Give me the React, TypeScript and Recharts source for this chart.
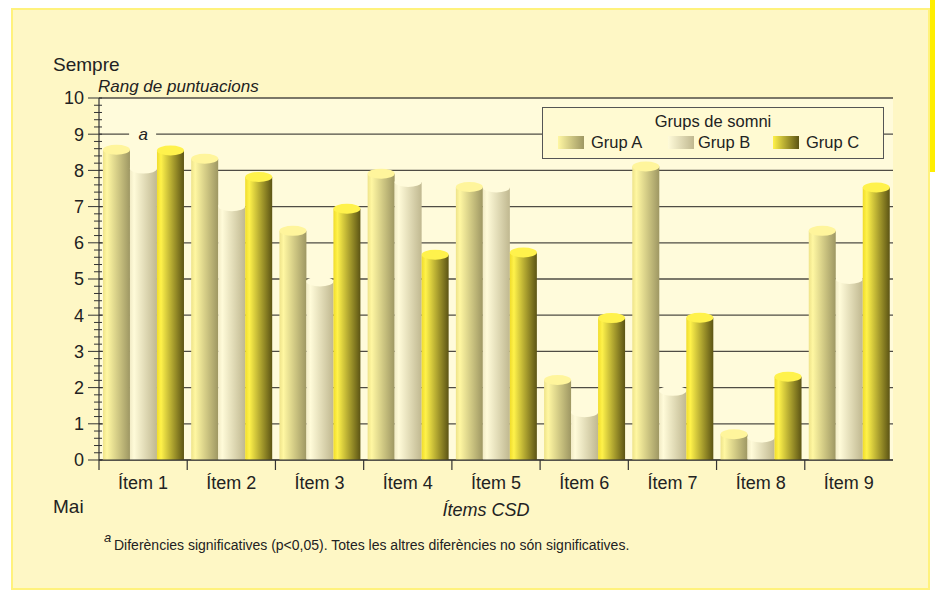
import { BarChart, Bar, XAxis, YAxis, CartesianGrid, ReferenceDot } from 'recharts';

const categories = ['Ítem 1', 'Ítem 2', 'Ítem 3', 'Ítem 4', 'Ítem 5', 'Ítem 6', 'Ítem 7', 'Ítem 8', 'Ítem 9'];
const grupA = [8.57, 8.32, 6.33, 7.91, 7.54, 2.21, 8.11, 0.71, 6.33];
const grupB = [8.05, 7.01, 4.93, 7.68, 7.53, 1.32, 1.91, 0.62, 5.0];
const grupC = [8.55, 7.82, 6.94, 5.67, 5.73, 3.92, 3.93, 2.3, 7.53];
const majorTicks = [0, 1, 2, 3, 4, 5, 6, 7, 8, 9, 10];
const seriesNames = ['Grup A', 'Grup B', 'Grup C'];

// minor ticks every 0.2 between the labelled ones
const yTicks: number[] = [];
majorTicks.forEach((t, i) => {
  yTicks.push(t);
  if (i < majorTicks.length - 1) for (let k = 1; k < 5; k++) yTicks.push(Math.round((t + k * 0.2) * 10) / 10);
});

const data = categories.map((c, i) => ({ item: c, a: grupA[i], b: grupB[i], c: grupC[i] }));

const FONT = '"Liberation Sans", Arial, Helvetica, sans-serif';
const INK = '#222';
const W = 935;
const H = 591;
const PLOT_L = 99;
const PLOT_R = 893;
const PLOT_T = 98;
const PLOT_B = 460;
const Y_W = 60;
const X_H = 40;
const BAND = (PLOT_R - PLOT_L) / categories.length;

const styles = {
  a: { top: '#fff59c', stops: ['#eee38a', '#fff7a2', '#9e9763'] },
  b: { top: '#fffbdb', stops: ['#f1ebc6', '#fffbd9', '#c0b890'] },
  c: { top: '#fff24c', stops: ['#f0dc2c', '#fff24a', '#5c5414'] },
};

function Cylinder(props: any) {
  const { x, y, width, height, id } = props;
  if (!width || height == null) return null;
  const s = styles[id as 'a' | 'b' | 'c'];
  const ry = 5;
  return (
    <g>
      <rect x={x} y={y} width={width} height={Math.max(height, 0)} fill={`url(#grad-${id})`} />
      <ellipse cx={x + width / 2} cy={y} rx={width / 2} ry={ry} fill={s.top} />
    </g>
  );
}

function YTick(props: any) {
  const { x, y, payload } = props;
  const ax = x + 15;
  const v = payload.value;
  const major = Math.abs(v - Math.round(v)) < 1e-6;
  if (!major) return <line x1={ax - 5} x2={ax + 3} y1={y} y2={y} stroke="#333" strokeWidth={1} />;
  return (
    <g>
      <line x1={ax - 11} x2={ax + 3} y1={y} y2={y} stroke="#333" strokeWidth={1} />
      <text x={x} y={y} dy="0.36em" textAnchor="end" fontSize={18} fontFamily={FONT} fill={INK}>
        {v}
      </text>
    </g>
  );
}

function XTick(props: any) {
  const { x, y, payload } = props;
  const left = x - BAND / 2;
  return (
    <g>
      <line x1={left} x2={left} y1={PLOT_B} y2={PLOT_B + 10} stroke="#333" strokeWidth={1.2} />
      <text x={x} y={y} dy="0.71em" textAnchor="middle" fontSize={18} fontFamily={FONT} fill={INK}>
        {payload.value}
      </text>
    </g>
  );
}

function MarkA(props: any) {
  const { cx, cy } = props;
  return (
    <g>
      <rect x={cx - 14} y={cy - 4} width={27} height={8} fill="#fffbdb" />
      <text x={cx} y={cy} dy="0.36em" textAnchor="middle" fontSize={17} fontStyle="italic" fontFamily={FONT} fill={INK}>
        a
      </text>
    </g>
  );
}

function Legend() {
  const keys = ['a', 'b', 'c'] as const;
  const swatchX = [15, 125, 230];
  const labelX = [48, 155, 263];
  return (
    <div
      style={{
        position: 'absolute',
        left: 542,
        top: 107,
        width: 342,
        height: 52,
        boxSizing: 'border-box',
        border: '1px solid #555',
        background: '#fffad2',
        fontFamily: FONT,
        fontSize: 16.5,
        color: INK,
        whiteSpace: 'nowrap',
      }}
    >
      <div style={{ position: 'absolute', left: 0, right: 0, top: 4, textAlign: 'center', lineHeight: '19px' }}>
        Grups de somni
      </div>
      {keys.map((k, i) => (
        <div key={k}>
          <span
            style={{
              position: 'absolute',
              left: swatchX[i],
              top: 28,
              width: 26,
              height: 13,
              background: `linear-gradient(to right, ${styles[k].stops[1]}, ${styles[k].stops[2]})`,
            }}
          />
          <span style={{ position: 'absolute', left: labelX[i], top: 25, lineHeight: '19px' }}>{seriesNames[i]}</span>
        </div>
      ))}
    </div>
  );
}

export default function App() {
  return (
    <div style={{ position: 'absolute', left: 0, top: 0, width: W, height: H, background: '#fff' }}>
      <div
        style={{
          position: 'absolute',
          left: 11,
          top: 8,
          width: 919,
          height: 582,
          boxSizing: 'border-box',
          background: '#fef7c5',
          border: '2px solid #fff27c',
        }}
      />
      <div style={{ position: 'absolute', left: 930, top: 0, width: 5, height: 172, background: '#ffee00' }} />
      <div style={{ position: 'absolute', left: 0, top: 0 }}>
        <BarChart
          width={W}
          height={H}
          data={data}
          margin={{ top: PLOT_T, right: W - PLOT_R, left: PLOT_L - Y_W, bottom: H - PLOT_B - X_H }}
          barCategoryGap="4.5%"
          barGap={0}
        >
          <defs>
            {(['a', 'b', 'c'] as const).map((k) => (
              <linearGradient key={k} id={`grad-${k}`} x1="0" y1="0" x2="1" y2="0">
                <stop offset="0%" stopColor={styles[k].stops[0]} />
                <stop offset="15%" stopColor={styles[k].stops[1]} />
                <stop offset="100%" stopColor={styles[k].stops[2]} />
              </linearGradient>
            ))}
          </defs>
          <CartesianGrid
            vertical={false}
            horizontalValues={majorTicks}
            stroke="#4f4c44"
            strokeWidth={1.3}
            fill="#fffbdb"
          />
          <XAxis
            dataKey="item"
            height={X_H}
            tick={<XTick />}
            tickLine={false}
            tickSize={10}
            tickMargin={6}
            axisLine={{ stroke: '#333', strokeWidth: 1.2 }}
            interval={0}
          />
          <YAxis
            width={Y_W}
            domain={[0, 10]}
            ticks={yTicks}
            interval={0}
            tick={<YTick />}
            tickLine={false}
            tickSize={11}
            tickMargin={4}
            axisLine={{ stroke: '#333', strokeWidth: 1.2 }}
          />
          <Bar dataKey="a" name={seriesNames[0]} isAnimationActive={false} shape={(p: any) => <Cylinder {...p} id="a" />} />
          <Bar dataKey="b" name={seriesNames[1]} isAnimationActive={false} shape={(p: any) => <Cylinder {...p} id="b" />} />
          <Bar dataKey="c" name={seriesNames[2]} isAnimationActive={false} shape={(p: any) => <Cylinder {...p} id="c" />} />
          <ReferenceDot x={categories[0]} y={9} r={0} shape={<MarkA />} />
        </BarChart>
      </div>
      <svg width={W} height={H} style={{ position: 'absolute', left: 0, top: 0, pointerEvents: 'none' }}>
        <text x={53} y={71} fontSize={19} fontFamily={FONT} fill={INK}>
          Sempre
        </text>
        <text x={98} y={92} fontSize={17} fontStyle="italic" fontFamily={FONT} fill={INK}>
          Rang de puntuacions
        </text>
        <text x={53} y={513} fontSize={19} fontFamily={FONT} fill={INK}>
          Mai
        </text>
        <text x={486} y={516} textAnchor="middle" fontSize={18} fontStyle="italic" fontFamily={FONT} fill={INK}>
          Ítems CSD
        </text>
        <text x={104} y={542} fontSize={13} fontStyle="italic" fontFamily={FONT} fill={INK}>
          a
        </text>
        <text x={114} y={550} fontSize={14} fontFamily={FONT} fill={INK}>
          Diferències significatives (p&lt;0,05). Totes les altres diferències no són significatives.
        </text>
      </svg>
      <Legend />
    </div>
  );
}
